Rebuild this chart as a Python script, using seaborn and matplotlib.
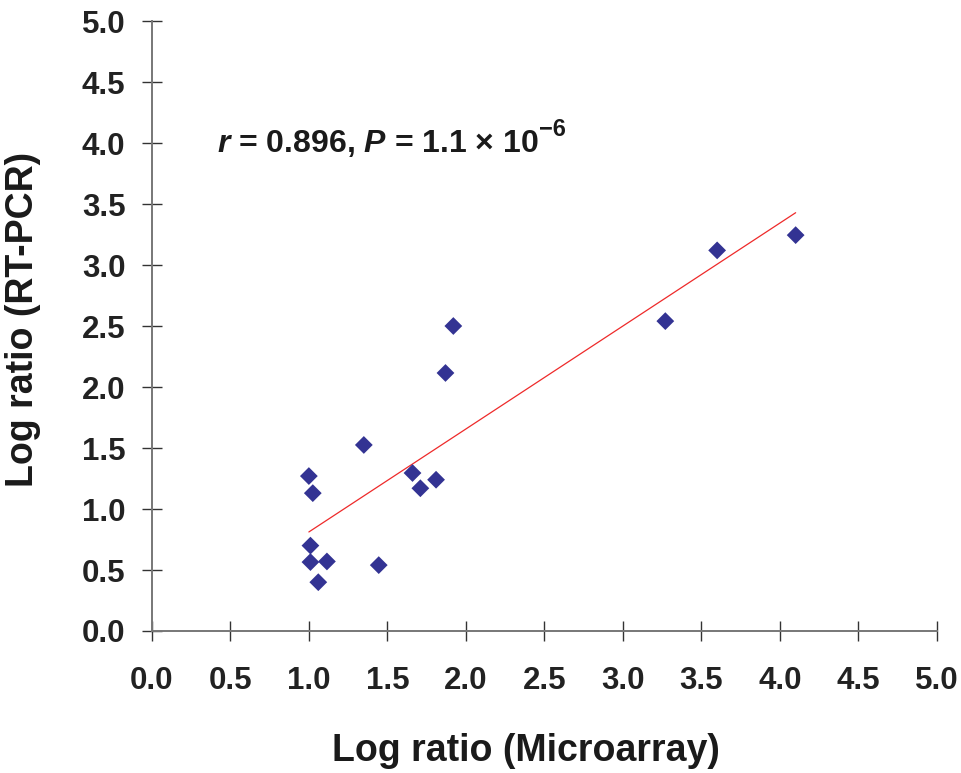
import numpy as np
import pandas as pd
import seaborn as sns
import matplotlib.pyplot as plt

# log ratios
microarray = [1.00, 1.025, 1.01, 1.01, 1.115, 1.06, 1.35, 1.445,
              1.66, 1.71, 1.81, 1.87, 1.92, 3.27, 3.60, 4.10]
rt_pcr = [1.27, 1.13, 0.70, 0.565, 0.57, 0.40, 1.525, 0.54,
          1.295, 1.17, 1.24, 2.115, 2.50, 2.54, 3.12, 3.245]
ticks = [0.0, 0.5, 1.0, 1.5, 2.0, 2.5, 3.0, 3.5, 4.0, 4.5, 5.0]
tick_labels = [f'{t:.1f}' for t in ticks]

data = pd.DataFrame({'microarray': microarray, 'rt_pcr': rt_pcr})

sns.set_style('ticks')
plt.rcParams['font.family'] = ['Liberation Sans', 'DejaVu Sans']
plt.rcParams['mathtext.fontset'] = 'custom'
plt.rcParams['mathtext.rm'] = 'Liberation Sans:bold'
plt.rcParams['mathtext.bf'] = 'Liberation Sans:bold'
plt.rcParams['mathtext.it'] = 'Liberation Sans:italic:bold'
plt.rcParams['mathtext.bfit'] = 'Liberation Sans:italic:bold'

fig = plt.figure(figsize=(9.61, 7.73), dpi=100)
ax = fig.add_axes([0.158, 0.1837, 0.817, 0.7891])

sns.regplot(
    data=data, x='microarray', y='rt_pcr', ax=ax,
    ci=None, truncate=True,
    marker='D',
    scatter_kws={'s': 82, 'color': '#333393', 'alpha': 1,
                 'edgecolor': 'none', 'zorder': 3},
    line_kws={'color': '#ee2a2a', 'lw': 0.9, 'zorder': 2},
)

ax.set_xlim(0, 5)
ax.set_ylim(0, 5)
ax.set_xticks(ticks)
ax.set_yticks(ticks)
ax.set_xticklabels(tick_labels, fontsize=22.5, fontweight='bold', color='#222222')
ax.set_yticklabels(tick_labels, fontsize=22.5, fontweight='bold', color='#222222')
ax.tick_params(axis='both', direction='inout', length=14, width=1.0, color='#333333')
ax.tick_params(axis='x', pad=18)
ax.tick_params(axis='y', pad=12)

sns.despine(ax=ax)
for side in ['left', 'bottom']:
    ax.spines[side].set_color('#777777')
    ax.spines[side].set_linewidth(1.4)

ax.set_xlabel('Log ratio (Microarray)', fontsize=27, fontweight='bold', color='#1a1a1a')
ax.set_ylabel('Log ratio (RT-PCR)', fontsize=27, fontweight='bold', color='#1a1a1a')
ax.xaxis.set_label_coords(0.477, -0.167)
ax.yaxis.set_label_coords(-0.141, 0.51)

ax.text(0.083, 0.786,
        r'$\mathbfit{r}$ = 0.896, $\mathbfit{P}$ = 1.1 × 10',
        transform=ax.transAxes, fontsize=23, fontweight='bold', color='#1a1a1a',
        ha='left', va='baseline')
ax.text(0.4925, 0.812, '\u22126',
        transform=ax.transAxes, fontsize=17, fontweight='bold', color='#1a1a1a',
        ha='left', va='baseline')

plt.savefig('out.png', dpi=100)
